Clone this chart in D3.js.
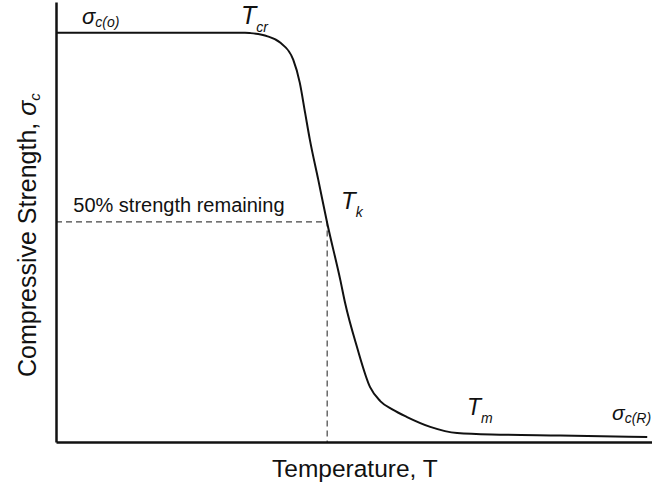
<!DOCTYPE html>
<html lang="en">
<head>
<meta charset="UTF-8">
<title>Compressive strength vs temperature</title>
<script src="https://d3js.org/d3.v7.min.js"></script>
<style>
  body { margin: 0; background: #fff; }
  text { font-family: "Liberation Sans", Arial, sans-serif; fill: #111; }
</style>
</head>
<body>
<svg id="chart" width="652" height="488"></svg>
<script>
  // temperature (arbitrary units 0-100) and normalised strength sigma/sigma0
  const temps = [0, 31.7, 32.6, 35.5, 37.6, 39.8, 40.9, 41.8, 42.6, 44.0, 45.5, 47.7, 48.5, 50.5, 52.7, 54.4, 56.5, 58.9, 62.8, 67.3, 74.5, 84.6, 99.2];
  const strength = [1.0, 1.0, 0.999, 0.991, 0.976, 0.934, 0.878, 0.804, 0.738, 0.641, 0.535, 0.396, 0.340, 0.232, 0.134, 0.100, 0.079, 0.061, 0.037, 0.022, 0.018, 0.016, 0.012];

  const halfT = 45.5, halfS = 0.538;
  const halfLabel = "50% strength remaining";

  const svg = d3.select("#chart");
  const margin = { top: 2, right: 0, bottom: 46, left: 56 };
  const width = +svg.attr("width");
  const height = +svg.attr("height");

  const x = d3.scaleLinear().domain([0, 100]).range([margin.left, width - margin.right]);
  const y = d3.scaleLinear().domain([0, 1.075]).range([height - margin.bottom, margin.top]);

  // dashed 50% guide
  svg.append("path")
    .attr("d", "M" + x(0) + "," + y(halfS) + "H" + x(halfT) + "V" + y(0))
    .attr("fill", "none")
    .attr("stroke", "#444")
    .attr("stroke-width", 1.2)
    .attr("stroke-dasharray", "6,4");

  svg.append("text")
    .attr("x", x(2.9)).attr("y", y(halfS) - 10)
    .attr("font-size", 20)
    .text(halfLabel);

  const pts = temps.map((t, i) => [t, strength[i]]);
  const line = d3.line().x(d => x(d[0])).y(d => y(d[1])).curve(d3.curveMonotoneX);
  svg.append("path")
    .datum(pts)
    .attr("d", line)
    .attr("fill", "none")
    .attr("stroke", "#111")
    .attr("stroke-width", 2);

  // axes without ticks
  svg.append("g")
    .attr("transform", "translate(0," + y(0) + ")")
    .call(d3.axisBottom(x).tickValues([]).tickSizeOuter(0))
    .call(g => g.select(".domain").attr("stroke", "#111").attr("stroke-width", 2.5));
  svg.append("g")
    .attr("transform", "translate(" + x(0) + ",0)")
    .call(d3.axisLeft(y).tickValues([]).tickSizeOuter(0))
    .call(g => g.select(".domain").attr("stroke", "#111").attr("stroke-width", 2.5));

  // axis titles
  svg.append("text")
    .attr("x", 272).attr("y", 477)
    .attr("font-size", 24.5)
    .text("Temperature, T");

  const yl = svg.append("text")
    .attr("transform", "translate(36,377) rotate(-90)")
    .attr("font-size", 25);
  yl.append("tspan").text("Compressive Strength, ");
  yl.append("tspan").attr("font-style", "italic").text("σ");
  yl.append("tspan").attr("font-style", "italic").attr("font-size", 15).attr("dy", 4).text("c");

  // symbol labels: [main, sub, x, y, size]
  const labels = [
    ["σ", "c(o)", 82, 24, 22],
    ["T", "cr", 241, 24, 25],
    ["T", "k", 341, 209, 24],
    ["T", "m", 467, 415, 23],
    ["σ", "c(R)", 612, 420, 21]
  ];
  labels.forEach(l => {
    const t = svg.append("text")
      .attr("x", l[2]).attr("y", l[3])
      .attr("font-size", l[4])
      .attr("font-style", "italic");
    t.append("tspan").text(l[0]);
    t.append("tspan").attr("font-size", 14).attr("dy", l[0] === "T" ? 8 : 3).text(l[1]);
  });
</script>
</body>
</html>
